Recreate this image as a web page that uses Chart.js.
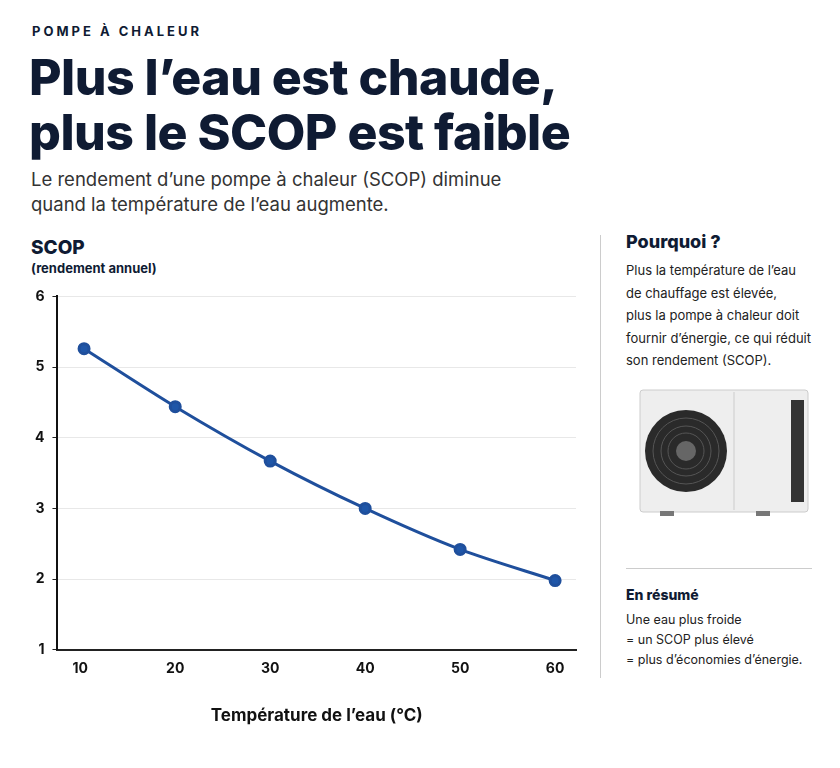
<!DOCTYPE html>
<html><head><meta charset="utf-8">
<script src="https://cdn.jsdelivr.net/npm/chart.js@4"></script>
<style>
body{margin:0;width:840px;height:768px;background:#fff;font-family:Inter,"Noto Sans",sans-serif;color:#0f1b33;position:relative;overflow:hidden}
.a{position:absolute}
</style></head><body>
<div class="a" style="left:32px;top:23px;font-size:13px;font-weight:700;letter-spacing:3px">POMPE À CHALEUR</div>
<div class="a" style="left:29px;top:50px;font-size:50px;font-weight:800;line-height:55px;letter-spacing:-0.5px">Plus l’eau est chaude,<br>plus le SCOP est faible</div>
<div class="a" style="left:31px;top:167px;font-size:18.5px;line-height:25px;color:#333">Le rendement d’une pompe à chaleur (SCOP) diminue<br>quand la température de l’eau augmente.</div>
<div class="a" style="left:31px;top:236px;font-size:19px;font-weight:800">SCOP</div>
<div class="a" style="left:31px;top:260px;font-size:13px;font-weight:700">(rendement annuel)</div>
<div class="a" style="left:600px;top:235px;width:1px;height:443px;background:#ccc"></div>
<div class="a" style="left:626px;top:231px;font-size:18px;font-weight:800">Pourquoi ?</div>
<div class="a" style="left:626px;top:259px;font-size:13px;line-height:22.5px;color:#222">Plus la température de l’eau<br>de chauffage est élevée,<br>plus la pompe à chaleur doit<br>fournir d’énergie, ce qui réduit<br>son rendement (SCOP).</div>
<svg class="a" style="left:636px;top:386px" width="175" height="138" viewBox="0 0 175 138">
<rect x="4" y="4" width="168" height="122" rx="3" fill="#eeeeee" stroke="#ccc"/>
<line x1="98" y1="6" x2="98" y2="124" stroke="#ccc"/>
<circle cx="50" cy="65" r="41" fill="#2a2a2a"/>
<g stroke="#555" fill="none"><circle cx="50" cy="65" r="33"/><circle cx="50" cy="65" r="25"/><circle cx="50" cy="65" r="18"/></g>
<circle cx="50" cy="65" r="10" fill="#666"/>
<rect x="155" y="14" width="13" height="102" fill="#333"/>
<rect x="24" y="125" width="14" height="5" fill="#777"/><rect x="120" y="125" width="14" height="5" fill="#777"/>
</svg>
<div class="a" style="left:626px;top:568px;width:186px;height:1px;background:#ccc"></div>
<div class="a" style="left:626px;top:586px;font-size:14px;font-weight:800">En résumé</div>
<div class="a" style="left:626px;top:610px;font-size:12.5px;line-height:20px;color:#222">Une eau plus froide<br>= un SCOP plus élevé<br>= plus d’économies d’énergie.</div>
<div class="a" style="left:20px;top:280px;width:570px;height:450px"><canvas id="c"></canvas></div>
<script>
const temps=[10,20,30,40,50,60];
const scop=[5.26,4.44,3.67,3.0,2.42,1.98];
const yTicks=[1,2,3,4,5,6];
new Chart(document.getElementById('c'),{type:'line',
data:{datasets:[{data:temps.map((t,i)=>({x:t+(i==0?0.4:0),y:scop[i]})),borderColor:'#1f4f9c',backgroundColor:'#1f56a8',borderWidth:3,pointRadius:5,pointHoverRadius:5,tension:0.3}]},
options:{responsive:true,maintainAspectRatio:false,animation:false,
layout:{padding:{top:8,right:14,left:7,bottom:0}},
plugins:{legend:{display:false},tooltip:{enabled:false}},
scales:{
x:{type:'linear',min:7.6,max:62.2,afterBuildTicks:s=>{s.ticks=temps.map(v=>({value:v}))},
grid:{display:false,drawTicks:true,tickLength:5},border:{color:'#222',width:2},
ticks:{color:'#111',font:{size:14,weight:'bold',family:'Inter'},padding:6},
title:{display:true,text:'Température de l’eau (°C)',color:'#111',font:{size:17,weight:'bold',family:'Inter'},padding:{top:22}}},
y:{min:1,max:6,afterBuildTicks:s=>{s.ticks=yTicks.map(v=>({value:v}))},
grid:{color:'#e8e8e8',tickLength:5,tickColor:'#222'},border:{color:'#111',width:2},
ticks:{color:'#111',font:{size:14,weight:'bold',family:'Inter'},padding:8}}}}});
</script>
</body></html>
